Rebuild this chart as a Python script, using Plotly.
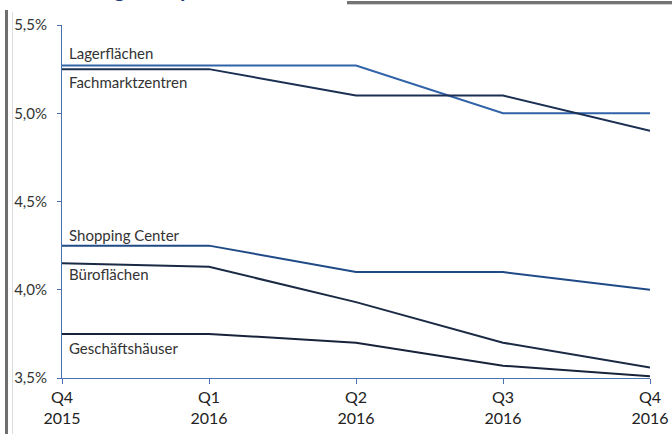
import plotly.graph_objects as go

quarters = ["Q4<br>2015", "Q1<br>2016", "Q2<br>2016", "Q3<br>2016", "Q4<br>2016"]
lager = [5.27, 5.27, 5.27, 5.00, 5.00]
fachmarkt = [5.25, 5.25, 5.10, 5.10, 4.90]
shopping = [4.25, 4.25, 4.10, 4.10, 4.00]
buero = [4.15, 4.13, 3.93, 3.70, 3.56]
geschaeft = [3.75, 3.75, 3.70, 3.57, 3.51]
y_ticks = [3.5, 4.0, 4.5, 5.0, 5.5]
y_ticktext = ["3,5%", "4,0%", "4,5%", "5,0%", "5,5%"]

series = [
    ("Lagerflächen", lager, "#3163a9", -13),
    ("Fachmarktzentren", fachmarkt, "#1b2f52", 13),
    ("Shopping Center", shopping, "#1f4a86", -11),
    ("Büroflächen", buero, "#1b2a44", 11),
    ("Geschäftshäuser", geschaeft, "#17233a", 14),
]

W, H = 672, 434
L, R, T, B = 62, 22, 25, 56
pw, ph = W - L - R, H - T - B

def px(x):
    return (x - L) / pw

def py(y):
    return (H - B - y) / ph

fig = go.Figure()
for name, vals, col, dy in series:
    fig.add_trace(go.Scatter(x=list(range(len(quarters))), y=vals, mode="lines",
                             line=dict(color=col, width=2), name=name, showlegend=False,
                             hoverinfo="skip"))
    fig.add_annotation(x=0, y=vals[0], xref="x", yref="y", text=name, showarrow=False,
                       xanchor="left", yanchor="middle", xshift=5, yshift=-dy,
                       font=dict(family="Lato", size=15, color="#333333"))

fig.add_annotation(x=px(4), y=py(3), xref="paper", yref="paper",
                   text="<b>Entwicklung der Spitzenrenditen</b>", showarrow=False,
                   xanchor="left", yanchor="bottom", borderpad=0,
                   font=dict(family="Lato", size=22, color="#1f3c78"))

shapes = [
    dict(type="rect", xref="paper", yref="paper", x0=px(5), x1=px(8), y0=py(H + 5), y1=py(10),
         fillcolor="#6e6e6e", line=dict(width=0), layer="above"),
    dict(type="line", xref="paper", yref="paper", x0=px(12.5), x1=px(12.5), y0=py(H + 5), y1=py(12),
         line=dict(color="#dcdcdc", width=1), layer="above"),
    dict(type="rect", xref="paper", yref="paper", x0=px(347), x1=px(W + 5), y0=py(4), y1=py(1),
         fillcolor="#747474", line=dict(width=0), layer="above"),
    dict(type="line", xref="paper", yref="paper", x0=px(347), x1=px(W + 5), y0=py(4.5), y1=py(4.5),
         line=dict(color="#d0d0d0", width=1), layer="above"),
]
fig.update_layout(
    width=W, height=H, autosize=False,
    margin=dict(l=L, r=R, t=T, b=B, pad=0),
    paper_bgcolor="white", plot_bgcolor="white",
    shapes=shapes,
    xaxis=dict(range=[0, len(quarters) - 1], tickvals=list(range(len(quarters))), ticktext=quarters,
               automargin=False,
               showgrid=False, zeroline=False, showline=True, linecolor="#4a72b0", linewidth=1,
               ticks="outside", ticklen=5, tickcolor="#4a72b0", tickwidth=1,
               tickfont=dict(family="Lato", size=16, color="#222222")),
    yaxis=dict(range=[3.5, 5.5], tickvals=y_ticks, ticktext=y_ticktext, automargin=False,
               ticklabelstandoff=7,
               showgrid=False, zeroline=False, showline=True, linecolor="#4a72b0", linewidth=1,
               ticks="outside", ticklen=4, tickcolor="#4a72b0", tickwidth=1,
               tickfont=dict(family="Lato", size=15, color="#333333")),
)
fig.write_html("out.html")
